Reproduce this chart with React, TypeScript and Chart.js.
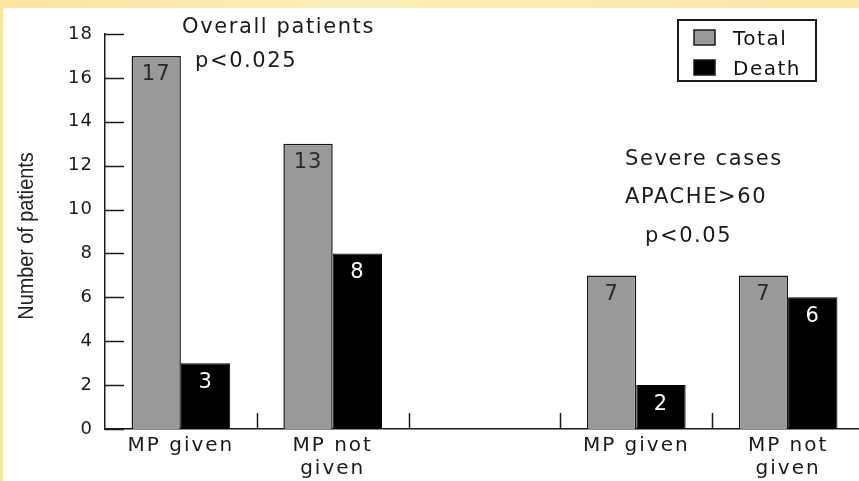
import React, { useEffect, useRef } from "react";
import { Chart, registerables } from "chart.js";

Chart.register(...registerables);

const categories: (string | string[])[] = ["MP given", ["MP not", "given"], "", "MP given", ["MP not", "given"]];
const totalValues: (number | null)[] = [17, 13, null, 7, 7];
const deathValues: (number | null)[] = [3, 8, null, 2, 6];
const seriesNames = ["Total", "Death"];
const yMin = 0;
const yMax = 18;
const yStep = 2;
const yTitle = "Number of patients";
const overallNotes = ["Overall patients", "p<0.025"];
const severeNotes = ["Severe cases", "APACHE>60", "p<0.05"];

const FONT = "'DejaVu Sans', sans-serif";
const INK = "#1a1a1a";

function patchLabels(chart: any, id: string, spacing: string) {
  const s = chart.scales[id];
  if (!s || s.__patched) return;
  const orig = s.drawLabels.bind(s);
  s.drawLabels = (area: any) => {
    const ctx = chart.ctx;
    ctx.save();
    ctx.letterSpacing = spacing;
    orig(area);
    ctx.restore();
  };
  s.__patched = true;
}

const customPlugin = {
  id: "custom",
  afterLayout(chart: any) {
    patchLabels(chart, "x", "2px");
    patchLabels(chart, "y", "1px");
  },
  afterDatasetsDraw(chart: any) {
    const ctx = chart.ctx;
    const { chartArea } = chart;
    const yScale = chart.scales.y;
    const xScale = chart.scales.x;

    // inward y ticks
    ctx.save();
    ctx.strokeStyle = INK;
    ctx.lineWidth = 1.5;
    yScale.ticks.forEach((t: any) => {
      const y = Math.round(yScale.getPixelForValue(t.value)) + 0.5;
      ctx.beginPath();
      ctx.moveTo(chartArea.left, y);
      ctx.lineTo(chartArea.left + 19, y);
      ctx.stroke();
    });
    // inward x boundary ticks
    const n = categories.length;
    for (let i = 0; i < n - 1; i++) {
      const x = Math.round((xScale.getPixelForTick(i) + xScale.getPixelForTick(i + 1)) / 2) + 0.5;
      ctx.beginPath();
      ctx.moveTo(x, chartArea.bottom);
      ctx.lineTo(x, chartArea.bottom - 16);
      ctx.stroke();
    }
    ctx.restore();

    // value labels
    ctx.save();
    ctx.letterSpacing = "1px";
    ctx.font = `21px ${FONT}`;
    ctx.textAlign = "center";
    ctx.textBaseline = "middle";
    chart.data.datasets.forEach((ds: any, di: number) => {
      const meta = chart.getDatasetMeta(di);
      meta.data.forEach((bar: any, i: number) => {
        const v = ds.data[i];
        if (v === null || v === undefined) return;
        ctx.fillStyle = di === 0 ? "#2a2a2a" : "#fff";
        ctx.fillText(String(v), bar.x, bar.y + 19);
      });
    });
    ctx.restore();

    // annotations
    ctx.save();
    ctx.letterSpacing = "1.6px";
    ctx.font = `21px ${FONT}`;
    ctx.fillStyle = INK;
    ctx.textAlign = "left";
    ctx.textBaseline = "alphabetic";
    ctx.fillText(overallNotes[0], 182, 33);
    ctx.fillText(overallNotes[1], 195, 67);
    ctx.fillText(severeNotes[0], 625, 165);
    ctx.fillText(severeNotes[1], 625, 203);
    ctx.fillText(severeNotes[2], 645, 242);
    ctx.restore();

    // legend
    ctx.save();
    ctx.strokeStyle = INK;
    ctx.lineWidth = 2;
    ctx.strokeRect(678, 20, 138, 61);
    const rows = [
      { y: 30, color: chart.data.datasets[0].backgroundColor, label: chart.data.datasets[0].label, base: 45 },
      { y: 60, color: chart.data.datasets[1].backgroundColor, label: chart.data.datasets[1].label, base: 75 },
    ];
    ctx.font = `20px ${FONT}`;
    ctx.letterSpacing = "1.5px";
    rows.forEach((r) => {
      ctx.fillStyle = r.color;
      ctx.fillRect(694, r.y, 21, 15);
      ctx.lineWidth = 1.5;
      ctx.strokeRect(694, r.y, 21, 15);
      ctx.fillStyle = "#111";
      ctx.textAlign = "left";
      ctx.textBaseline = "alphabetic";
      ctx.fillText(r.label, 733, r.base);
    });
    ctx.restore();

    // y axis title
    ctx.save();
    ctx.translate(33, 236);
    ctx.rotate(-Math.PI / 2);
    ctx.scale(0.9, 1);
    ctx.font = `22px 'Liberation Sans', Arial, sans-serif`;
    ctx.fillStyle = "#222";
    ctx.textAlign = "center";
    ctx.textBaseline = "alphabetic";
    ctx.fillText(yTitle, 0, 0);
    ctx.restore();
  },
};

export default function App() {
  const ref = useRef<HTMLCanvasElement>(null);
  useEffect(() => {
    if (!ref.current) return;
    const chart = new Chart(ref.current, {
      type: "bar",
      data: {
        labels: categories,
        datasets: [
          {
            label: seriesNames[0],
            data: totalValues,
            backgroundColor: "#999999",
            borderColor: "#1a1a1a",
            borderWidth: 1.5,
            categoryPercentage: 0.65,
            barPercentage: 1,
          },
          {
            label: seriesNames[1],
            data: deathValues,
            backgroundColor: "#000000",
            borderColor: "#000",
            borderWidth: 1,
            categoryPercentage: 0.65,
            barPercentage: 1,
          },
        ],
      },
      options: {
        animation: false,
        responsive: false,
        events: [],
        layout: { padding: { top: 34, right: 6, left: 0, bottom: 0 } },
        plugins: { legend: { display: false }, tooltip: { enabled: false }, title: { display: false } },
        scales: {
          x: {
            offset: true,
            grid: { display: false, drawTicks: false },
            border: { display: true, color: INK, width: 1.5 },
            ticks: {
              color: INK,
              font: { family: FONT, size: 20, lineHeight: 1.15 },
              padding: 5,
              maxRotation: 0,
              autoSkip: false,
            },
            afterFit: (s: any) => {
              s.height = 52;
            },
          },
          y: {
            min: yMin,
            max: yMax,
            grid: { display: false, drawTicks: false },
            border: { display: true, color: INK, width: 1.5 },
            ticks: {
              stepSize: yStep,
              color: INK,
              font: { family: FONT, size: 18 },
              padding: 12,
            },
            afterFit: (s: any) => {
              s.width = 105;
            },
          },
        },
      },
      plugins: [customPlugin],
    });
    return () => chart.destroy();
  }, []);

  return (
    <div style={{ position: "fixed", left: 0, top: 0, width: 859, height: 481, overflow: "hidden", background: "linear-gradient(90deg, #fbe3a0, #fdeeb8 40%, #fce6a6)" }}>
      <div style={{ position: "absolute", left: 3, top: 8, right: 0, bottom: 0, background: "#fff" }} />
      <canvas ref={ref} width={870} height={481} style={{ position: "absolute", left: 0, top: 0, width: 870, height: 481 }} />
    </div>
  );
}
